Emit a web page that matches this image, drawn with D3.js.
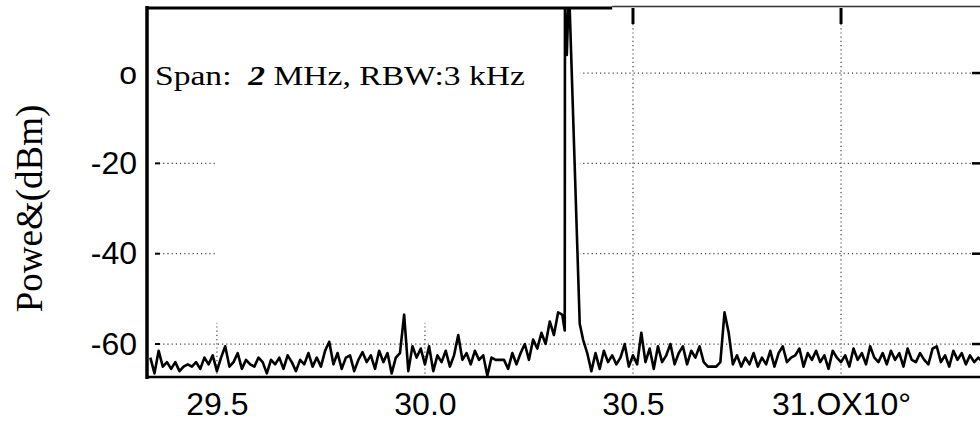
<!DOCTYPE html>
<html>
<head>
<meta charset="utf-8">
<script src="https://cdn.jsdelivr.net/npm/d3@7"></script>
<style>
  body { margin: 0; background: #fff; }
  svg { display: block; }
</style>
</head>
<body>
<div class="svg"></div>
<script>
var width = 980;
var height = 424;

// sweep: 29.34 .. 30.33 MHz every 0.01 (x10^6)
var sweepStart = 29.34, sweepStep = 0.01;
var powerLow = [
  -63, -66.5, -61.5, -65, -64, -65.5, -64, -66, -65, -64.5,
  -65, -64, -65.5, -63, -64.5, -62.5, -66, -63, -60.5, -65,
  -64, -62, -65.5, -63.5, -64.5, -65, -63, -64, -66.5, -63.5,
  -64.5, -63, -65.5, -62.5, -64, -66, -63.5, -64.5, -62, -65,
  -63, -65, -61.5, -59.5, -64.5, -62, -65.5, -63, -62.5, -66,
  -63.5, -61.8, -64, -62.5, -65.5, -61.5, -64, -62, -66.5, -63,
  -62, -53.5, -66, -60.5, -63, -61, -64.5, -60.5, -66, -62.5,
  -64, -61.5, -65, -62.5, -58, -63.5, -62, -64.5, -61.5, -63.5,
  -62.5, -67, -63, -63.5, -63.5, -63.5, -65.5, -62, -64.5, -62,
  -60, -63.5, -59, -61, -57.5, -60, -55, -58, -53, -53.5
];

// carrier
var peakFreq  = [30.336, 30.3365, 30.341, 30.345, 30.3465, 30.348, 30.372];
var peakPower = [-57, 16, 4, 16, 16, 14, -55.5];

// sweep: 30.38 .. 31.34 MHz every 0.01
var highStart = 30.38;
var powerHigh = [
  -59, -62, -66,
  -62, -65.5, -61.5, -64, -62.5, -64.5, -63, -60, -65, -62.5,
  -64.5, -57.5, -64, -61, -65.5, -60.5, -64, -62.5, -60, -64.5,
  -62, -60.5, -64.5, -61.5, -63, -60.5, -64, -65, -65, -65,
  -64, -53, -57.5, -64.5, -62.5, -65, -63, -64.5, -62, -65,
  -63, -64.5, -61.5, -65, -62, -60.5, -64, -63, -62.5, -61,
  -65, -62, -63.5, -61.5, -64, -62.5, -65.5, -61.5, -63, -64,
  -62.5, -65, -61, -63.5, -62, -64.5, -60.5, -63, -64, -62,
  -64.5, -61.5, -63.5, -62, -65, -61, -63.5, -64, -62, -63.5,
  -64.5, -61, -60.5, -64, -62.5, -65, -61.5, -63.5, -62, -64.5,
  -62.5, -64, -63, -64
];

var yTicks = [0, -20, -40, -60];
var yTickLabels = ["o", "-20", "-40", "-60"];
var xTicks = [29.5, 30.0, 30.5, 31.0];
var xTickLabels = ["29.5", "30.0", "30.5", "31.OX10°"];

var data = [];
for (var i = 0; i < powerLow.length; i++) {
  data.push({f: sweepStart + i * sweepStep, p: powerLow[i]});
}
for (var i = 0; i < peakFreq.length; i++) {
  data.push({f: peakFreq[i], p: peakPower[i]});
}
for (var i = 0; i < powerHigh.length; i++) {
  data.push({f: highStart + i * sweepStep, p: powerHigh[i]});
}

var pL = 147, pR = 980, pT = 8, pB = 377;

var svg = d3.select("div.svg")
  .append("svg")
  .attr("width", width)
  .attr("height", height);

var x = d3.scaleLinear()
  .domain([29.332, 31.334])
  .range([pL, pR]);

var y = d3.scaleLinear()
  .domain([-67.3, 14.4])
  .range([pB, pT]);

svg.append("clipPath").attr("id", "plot")
  .append("rect")
  .attr("x", pL).attr("y", pT)
  .attr("width", pR - pL).attr("height", pB - pT + 8);

// grid
var grid = svg.append("g")
  .attr("stroke", "#444")
  .attr("stroke-width", 1.2)
  .attr("stroke-dasharray", "1.2,3");

grid.selectAll("line.h").data(yTicks).enter().append("line")
  .attr("x1", pL + 12).attr("x2", pR - 6)
  .attr("y1", d => y(d)).attr("y2", d => y(d));

grid.selectAll("line.v").data(xTicks).enter().append("line")
  .attr("x1", d => x(d)).attr("x2", d => x(d))
  .attr("y1", pT + 16).attr("y2", pB);

// annotation box hides part of the grid
svg.append("rect")
  .attr("x", x(29.5) - 1).attr("y", pT + 2)
  .attr("width", x(30.3725) - x(29.5) + 1).attr("height", y(-55.3) - pT - 2)
  .attr("fill", "#fff");
svg.append("rect")
  .attr("x", pL + 3).attr("y", y(4))
  .attr("width", x(29.5) - pL).attr("height", y(-4) - y(4))
  .attr("fill", "#fff");

var note = svg.append("text")
  .attr("x", pL + 8).attr("y", y(-2.6))
  .attr("font-family", "'Liberation Serif', 'Times New Roman', serif")
  .attr("font-size", 28)
  .attr("textLength", 370)
  .attr("lengthAdjust", "spacingAndGlyphs")
  .style("white-space", "pre");
note.append("tspan").text("Span:  ");
note.append("tspan").attr("font-weight", "bold").attr("font-style", "italic").text("2");
note.append("tspan").text(" MHz, RBW:3 kHz");

// trace
var line = d3.line()
  .x(d => x(d.f))
  .y(d => y(d.p));

svg.append("path")
  .datum(data)
  .attr("clip-path", "url(#plot)")
  .attr("fill", "none")
  .attr("stroke", "#000")
  .attr("stroke-width", 2.6)
  .attr("stroke-linejoin", "round")
  .attr("d", line);

// frame
var frame = svg.append("g").attr("stroke", "#000");
frame.append("line")
  .attr("x1", pL).attr("x2", pL)
  .attr("y1", pT - 2).attr("y2", pB + 2)
  .attr("stroke-width", 3.5);
frame.append("line")
  .attr("x1", pL).attr("x2", pR)
  .attr("y1", pB).attr("y2", pB)
  .attr("stroke-width", 2.5);
frame.append("line")
  .attr("x1", pL).attr("x2", x(30.45))
  .attr("y1", pT).attr("y2", pT)
  .attr("stroke-width", 3);
frame.append("line")
  .attr("x1", x(30.45)).attr("x2", pR)
  .attr("y1", pT - 1.5).attr("y2", pT - 1.5)
  .attr("stroke", "#333")
  .attr("stroke-width", 1.5);

frame.selectAll("line.tt").data(xTicks.slice(2)).enter().append("line")
  .attr("x1", d => x(d)).attr("x2", d => x(d))
  .attr("y1", pT).attr("y2", pT + 16)
  .attr("stroke-width", 3);

frame.selectAll("line.rt").data(yTicks).enter().append("line")
  .attr("x1", pR - 8).attr("x2", pR)
  .attr("y1", d => y(d)).attr("y2", d => y(d))
  .attr("stroke-width", 2.5);

frame.selectAll("line.lt").data(yTicks.slice(1)).enter().append("line")
  .attr("x1", pL + 8).attr("x2", pL + 13)
  .attr("y1", d => y(d)).attr("y2", d => y(d))
  .attr("stroke-width", 2);

// axes labels
var yAxis = d3.axisLeft(y)
  .tickValues(yTicks)
  .tickSize(0)
  .tickPadding(10)
  .tickFormat((d, i) => yTickLabels[i]);

var xAxis = d3.axisBottom(x)
  .tickValues(xTicks)
  .tickSize(0)
  .tickPadding(15)
  .tickFormat((d, i) => xTickLabels[i]);

var gy = svg.append("g")
  .attr("transform", `translate(${pL},0)`)
  .call(yAxis);
var gx = svg.append("g")
  .attr("transform", `translate(0,${pB})`)
  .call(xAxis);

svg.selectAll(".domain").remove();
svg.selectAll(".tick text")
  .attr("font-family", "'Liberation Sans', Arial, sans-serif")
  .attr("font-size", 32)
  .attr("fill", "#000");

svg.append("text")
  .attr("transform", `translate(42,${y(-30)}) rotate(-90)`)
  .attr("text-anchor", "middle")
  .attr("font-family", "'Liberation Serif', 'Times New Roman', serif")
  .attr("font-size", 37)
  .text("Powe&(dBm)");
</script>
</body>
</html>
